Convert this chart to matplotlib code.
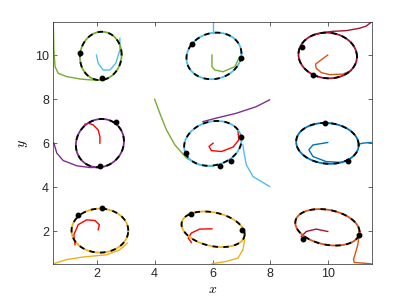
import numpy as np
import matplotlib
matplotlib.use('Agg')
import matplotlib.pyplot as plt

plt.rcParams['font.family'] = ['Liberation Sans', 'DejaVu Sans']
plt.rcParams['mathtext.fontset'] = 'cm'

blue = '#0072BD'
orange = '#D95319'
yellow = '#EDB120'
purple = '#7E2F8E'
green = '#77AC30'
cyan = '#4DBEEE'
crimson = '#A2142F'
red = '#FF0000'

# limit cycles: centre, half width, half height, tilt (sin of phase)
cycle_cx = [2.14, 6.05, 9.98, 2.11, 6.01, 9.97, 2.11, 6.02, 9.97]
cycle_cy = [9.97, 9.97, 9.99, 6.00, 5.99, 5.99, 2.02, 2.08, 2.17]
cycle_hw = [0.72, 0.95, 1.01, 0.83, 0.99, 1.08, 0.98, 1.09, 1.11]
cycle_hh = [1.10, 1.06, 1.04, 1.10, 1.02, 0.93, 1.00, 0.81, 0.83]
cycle_tilt = [0.05, 0.10, -0.05, 0.08, 0.15, -0.08, 0.0, -0.28, -0.25]
cycle_colors = [green, cyan, crimson, purple, cyan, blue, yellow, yellow, orange]

# trajectories
a_out_x = [0.50, 0.52, 0.56, 0.67, 0.96, 1.42, 1.77, 2.00]
a_out_y = [11.50, 10.24, 9.48, 9.18, 9.03, 8.92, 8.88, 8.87]
a_in_x = [1.99, 2.05, 2.22, 2.46, 2.66, 2.80, 2.80]
a_in_y = [10.01, 9.64, 9.33, 9.33, 9.64, 10.24, 10.77]

b_out_x = [6.00, 6.00]
b_out_y = [11.50, 11.00]
b_in_x = [5.98, 5.98, 6.08, 6.36, 6.77, 6.94]
b_in_y = [10.01, 9.48, 9.33, 9.25, 9.48, 9.94]

c_out_x = [11.48, 11.31, 11.08, 10.62, 10.16, 9.81, 9.58]
c_out_y = [11.50, 11.33, 11.23, 11.12, 11.09, 11.03, 10.95]
c_in_x = [9.98, 9.56, 9.58, 9.76, 10.04, 10.50, 10.79]
c_in_y = [10.01, 9.60, 9.41, 9.21, 9.12, 9.14, 9.30]

d_out_x = [0.52, 0.62, 0.84, 1.31, 1.77, 2.11]
d_out_y = [6.00, 5.55, 5.21, 4.97, 4.89, 4.90]
d_in_x = [2.11, 2.11, 2.05, 1.88, 1.71, 1.59]
d_in_y = [6.00, 6.30, 6.60, 6.83, 6.91, 6.86]

e_out1_x = [4.00, 4.18, 4.41, 4.70, 5.10, 5.56, 6.00]
e_out1_y = [8.00, 7.36, 6.60, 5.92, 5.32, 5.01, 4.94]
e_out2_x = [7.97, 7.51, 6.82, 6.13, 5.67]
e_out2_y = [7.97, 7.66, 7.36, 7.14, 6.98]
e_out3_x = [7.97, 7.40, 7.17, 7.09, 7.05]
e_out3_y = [4.03, 4.48, 5.01, 5.55, 5.92]
e_in_x = [6.02, 5.88, 5.96, 6.31, 6.71, 6.91, 6.88]
e_in_y = [6.00, 5.85, 5.66, 5.62, 5.82, 6.15, 6.53]

f_out_x = [11.48, 11.19, 11.05]
f_out_y = [6.03, 6.00, 5.95]
f_in_x = [9.98, 9.47, 9.33, 9.47, 9.93, 10.50]
f_in_y = [6.03, 5.92, 5.70, 5.39, 5.16, 5.12]

g_out_x = [0.50, 0.96, 1.53, 2.34, 2.80, 3.05]
g_out_y = [0.51, 0.70, 0.82, 0.92, 1.15, 1.45]
g_in_x = [2.05, 2.09, 1.94, 1.65, 1.36, 1.21, 1.25]
g_in_y = [2.06, 2.29, 2.48, 2.51, 2.29, 1.83, 1.38]

h_out_x = [5.98, 6.48, 6.88, 7.05, 7.11]
h_out_y = [0.51, 0.62, 0.77, 1.15, 1.60]
h_in_x = [5.98, 5.56, 5.27, 5.16, 5.27]
h_in_y = [2.10, 2.09, 1.91, 1.68, 1.48]

i_out_x = [11.48, 10.90, 10.87, 10.94, 11.02, 11.05]
i_out_y = [0.51, 0.57, 0.70, 1.00, 1.38, 1.68]
i_in_x = [9.98, 9.58, 9.24, 9.07]
i_in_y = [1.98, 2.09, 1.98, 1.75]

dot_x = [1.42, 2.17, 5.29, 6.97, 9.09, 9.47, 2.66, 2.11, 6.97, 5.08, 6.25, 6.65,
         9.87, 10.67, 1.36, 2.17, 5.24, 7.03, 9.12, 11.05]
dot_y = [10.12, 8.98, 10.50, 9.89, 10.39, 9.10, 6.95, 4.95, 6.30, 5.55, 4.98, 5.20,
         6.91, 5.20, 2.71, 3.07, 2.79, 2.06, 1.65, 1.80]

trajectories = [
    (a_out_x, a_out_y, green), (a_in_x, a_in_y, cyan),
    (b_out_x, b_out_y, cyan), (b_in_x, b_in_y, green),
    (c_out_x, c_out_y, crimson), (c_in_x, c_in_y, orange),
    (d_out_x, d_out_y, purple), (d_in_x, d_in_y, red),
    (e_out1_x, e_out1_y, green), (e_out2_x, e_out2_y, purple),
    (e_out3_x, e_out3_y, cyan), (e_in_x, e_in_y, red),
    (f_out_x, f_out_y, blue), (f_in_x, f_in_y, blue),
    (g_out_x, g_out_y, yellow), (g_in_x, g_in_y, red),
    (h_out_x, h_out_y, yellow), (h_in_x, h_in_y, red),
    (i_out_x, i_out_y, orange), (i_in_x, i_in_y, crimson),
]

fig = plt.figure(figsize=(4.11, 3.01), dpi=100)
ax = fig.add_axes([0.1297, 0.1229, 0.7747, 0.803])

for xs, ys, c in trajectories:
	ax.plot(xs, ys, color=c, lw=1.0, solid_joinstyle='round')

t = np.linspace(0, 2 * np.pi, 200)
for cx, cy, hw, hh, tilt, c in zip(cycle_cx, cycle_cy, cycle_hw, cycle_hh, cycle_tilt, cycle_colors):
	phi = np.arcsin(tilt)
	ex = cx + hw * np.cos(t)
	ey = cy + hh * np.sin(t + phi)
	ax.plot(ex, ey, color=c, lw=1.3)
	ax.plot(ex, ey, color='black', lw=1.3, linestyle=(0, (3, 3)))

ax.plot(dot_x, dot_y, 'o', color='black', markersize=3.2, zorder=5)

ax.set_xlim(0.5, 11.5)
ax.set_ylim(0.5, 11.5)
ax.set_xticks([2, 4, 6, 8, 10])
ax.set_yticks([2, 4, 6, 8, 10])
ax.tick_params(direction='in', length=3, width=0.5, labelsize=9, top=True, right=True,
               colors='#262626', pad=3)
for s in ax.spines.values():
	s.set_linewidth(0.5)
	s.set_color('#262626')
ax.set_xlabel('$x$', fontsize=10, labelpad=1)
ax.set_ylabel('$y$', fontsize=10, labelpad=4)

fig.savefig('out.png', dpi=100)
